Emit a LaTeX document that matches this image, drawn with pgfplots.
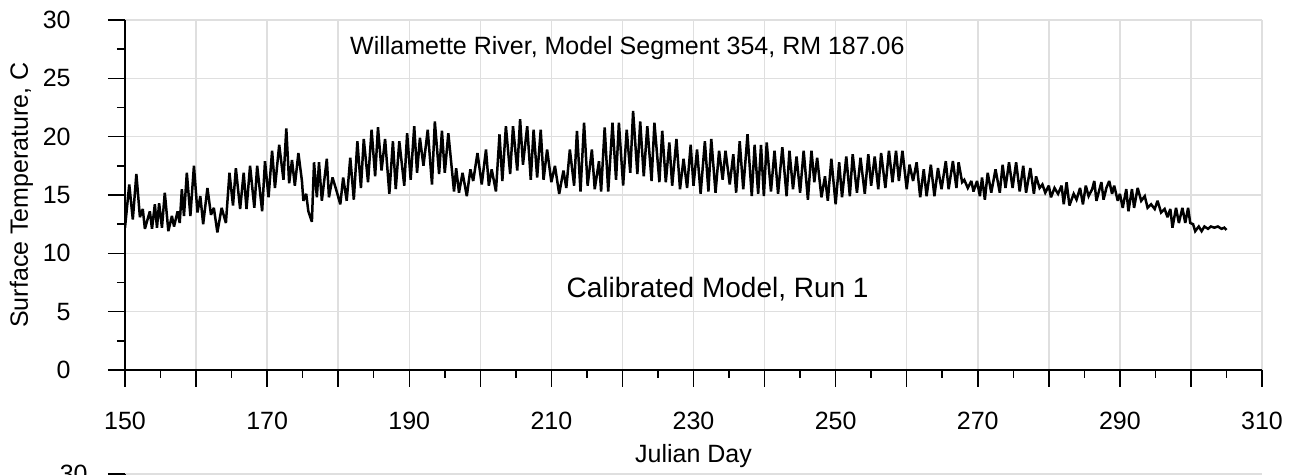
\documentclass[border=0pt]{standalone}
\usepackage{pgfplots}
\pgfplotsset{compat=1.18}
\usepackage{fontspec}
\setmainfont{Liberation Sans}
\newcommand{\lf}{\fontsize{12.5}{15}\selectfont}
\begin{document}
\begin{tikzpicture}
\begin{axis}[
  at={(0,0)}, anchor=south west,
  scale only axis, width=568.5pt, height=175pt,
  xmin=150, xmax=310, ymin=0, ymax=30,
  axis lines=left, axis line style={-, black, line width=0.75pt},
  xtick={150,160,...,310},
  xticklabels={150,,170,,190,,210,,230,,250,,270,,290,,310},
  ytick={0,5,...,30},
  yticklabels={0,5,10,15,20,25,30},
  minor x tick num=1, minor y tick num=1,
  tick align=outside, major tick length=8.5pt, minor tick length=4pt,
  tick style={black, line width=0.75pt},
  xmajorgrids, ymajorgrids,
  major grid style={draw=gray!25, line width=0.75pt},
  xticklabel style={font=\lf, anchor=base, inner sep=0pt, yshift=-21.5pt},
  yticklabel style={font=\lf, anchor=east, inner sep=0pt, xshift=-18.5pt},
]
\addplot[black, line width=1.25pt, sharp plot, line join=miter, miter limit=3] table {
150.0 12.2
150.6 15.9
151.1 12.9
151.6 16.8
152.1 13.1
152.5 13.8
152.8 12.1
153.5 13.6
153.8 12.1
154.2 14.2
154.5 12.2
154.8 14.3
155.2 12.2
155.6 15.2
156.1 11.9
156.6 13.2
156.9 12.3
157.4 13.6
157.7 12.6
158.0 15.5
158.3 13.2
158.7 16.9
159.2 13.2
159.7 17.5
160.2 13.5
160.6 14.9
161.0 12.5
161.6 15.6
162.1 13.3
162.5 13.9
163.0 11.8
163.6 13.9
164.2 12.6
164.7 16.9
165.2 14.1
165.6 17.3
166.2 13.8
166.7 16.9
167.1 13.8
167.6 17.5
168.2 13.9
168.6 17.5
169.3 13.6
169.7 17.9
170.2 14.8
170.7 18.8
171.1 15.6
171.7 19.3
172.3 16.3
172.7 20.7
173.1 16.0
173.5 18.0
173.9 15.8
174.4 18.6
174.9 16.2
175.1 14.5
175.5 15.1
175.8 13.6
176.3 12.7
176.6 17.8
177.0 14.8
177.3 17.8
177.7 14.5
178.4 18.1
178.7 14.8
179.2 16.5
179.7 15.5
180.3 14.2
180.7 16.5
181.2 14.5
181.7 18.2
182.2 14.6
182.7 19.6
183.2 15.6
183.6 19.8
184.2 16.1
184.7 20.6
185.2 16.6
185.6 20.8
186.1 17.1
186.6 19.8
187.2 15.1
187.7 19.6
188.1 15.5
188.6 19.6
189.3 15.8
189.7 20.3
190.2 16.3
190.7 20.9
191.1 16.9
191.5 19.9
192.0 17.5
192.6 20.6
193.2 15.9
193.6 21.3
194.2 16.8
194.6 20.5
195.0 16.9
195.5 20.3
195.9 17.8
196.3 15.3
196.6 17.3
197.0 15.2
197.5 16.9
198.1 14.9
198.6 17.2
199.0 16.2
199.6 18.6
200.2 15.9
200.8 18.9
201.2 15.8
201.6 17.2
202.2 15.3
202.7 20.2
203.1 16.2
203.6 20.9
204.2 16.8
204.6 20.9
205.2 17.1
205.6 21.5
206.0 17.6
206.6 20.9
207.1 16.3
207.5 20.6
208.0 16.5
208.5 20.6
208.9 16.3
209.4 18.9
210.0 16.1
210.5 17.5
211.1 15.1
211.7 17.1
212.1 15.6
212.6 18.9
213.2 15.8
213.6 20.5
214.1 15.3
214.6 21.2
215.1 15.8
215.7 18.9
216.1 15.5
216.7 17.9
217.0 15.3
217.5 20.8
218.0 15.3
218.6 21.2
219.1 16.3
219.5 21.2
220.1 15.8
220.6 20.6
221.1 16.9
221.5 22.2
222.1 16.8
222.5 21.3
223.0 16.6
223.5 20.9
224.1 16.2
224.5 21.2
225.2 16.1
225.6 20.5
226.1 16.1
226.6 19.5
227.0 15.8
227.6 19.8
228.1 15.5
228.6 18.1
229.1 15.6
229.6 19.3
230.0 15.8
230.5 18.9
231.0 15.1
231.6 19.6
232.1 15.3
232.5 19.8
233.1 15.2
233.6 18.8
234.1 16.3
234.5 18.8
235.1 15.9
235.6 18.5
236.0 15.2
236.5 19.6
237.0 15.5
237.6 20.2
238.2 14.9
238.6 19.3
239.1 15.1
239.5 19.3
239.9 14.9
240.3 19.5
240.9 15.3
241.4 18.8
241.9 15.1
242.5 19.1
243.1 14.9
243.5 18.8
244.0 15.5
244.5 18.3
245.0 15.2
245.5 18.8
246.1 14.6
246.6 18.8
247.0 16.1
247.4 18.2
248.0 14.8
248.5 16.6
248.9 14.5
249.4 18.1
250.0 14.2
250.5 17.8
250.9 14.8
251.5 18.3
252.0 14.9
252.4 18.5
253.0 15.2
253.5 18.2
254.1 15.1
254.6 18.5
255.0 15.8
255.5 18.3
256.0 15.5
256.4 18.6
257.0 15.6
257.5 18.8
258.0 16.1
258.5 18.8
258.9 16.2
259.4 18.8
260.0 15.5
260.4 17.6
260.9 16.2
261.4 17.8
261.9 14.8
262.4 17.2
262.8 14.9
263.4 17.6
263.9 14.9
264.4 17.3
264.9 15.5
265.5 17.9
265.9 15.5
266.5 17.9
267.0 15.6
267.3 17.8
267.8 16.1
268.1 16.3
268.6 15.6
269.1 16.2
269.4 15.3
269.9 16.2
270.3 14.9
270.6 16.5
271.0 14.6
271.4 16.9
271.9 15.2
272.5 17.2
273.1 15.2
273.5 17.6
273.9 15.6
274.4 17.8
274.9 15.6
275.4 17.8
275.9 15.3
276.4 17.5
276.8 15.2
277.4 17.3
277.9 15.1
278.2 16.6
278.7 15.6
279.1 15.9
279.5 15.2
280.0 15.8
280.3 14.8
280.8 15.6
281.3 15.1
281.8 15.8
282.1 14.2
282.5 16.1
282.9 14.1
283.5 15.1
283.9 14.6
284.4 15.6
284.8 14.2
285.2 15.8
285.6 14.9
286.1 15.5
286.4 16.2
286.7 14.5
287.4 16.1
287.7 14.6
288.1 15.6
288.5 16.2
288.9 15.1
289.2 15.8
289.7 14.5
290.0 15.1
290.4 13.9
290.9 15.5
291.2 13.6
291.7 15.5
292.0 13.9
292.5 15.6
293.0 14.5
293.5 14.9
293.9 13.9
294.4 14.2
294.9 13.8
295.3 14.5
295.8 13.5
296.3 13.8
296.7 13.1
297.1 13.8
297.4 12.2
297.9 13.9
298.3 12.6
298.8 13.9
299.2 12.6
299.6 13.9
299.9 12.6
300.3 12.5
300.6 11.9
301.1 12.3
301.5 11.9
301.9 12.3
302.4 12.1
302.8 12.3
303.3 12.2
303.8 12.3
304.3 12.1
304.7 12.2
305.0 12.0
};
\node[font=\lf, anchor=base, inner sep=0pt] at (axis cs:220.7,27.08) {Willamette River, Model Segment 354, RM 187.06};
\node[font=\fontsize{14}{17}\selectfont, anchor=base, inner sep=0pt] at (axis cs:233.4,6.25) {Calibrated Model, Run 1};
\end{axis}
\node[font=\lf, anchor=base, inner sep=0pt] at (284.25pt,-46.5pt) {Julian Day};
\node[font=\lf, anchor=base, inner sep=0pt, rotate=90] at (-48.5pt,87.5pt) {Surface Temperature, C};
% top of the next panel, cut by the page edge
\draw[gray!25, line width=0.75pt] (0,-52pt) -- (568.5pt,-52pt);
\draw[black, line width=0.75pt] (-8.5pt,-52pt) -- (0,-52pt);
\draw[black, line width=0.75pt] (0,-52pt) -- (0,-60pt);
\node[font=\lf, anchor=east, inner sep=0pt] at (-18.5pt,-52pt) {30};
\pgfresetboundingbox
\useasboundingbox (-62.5pt,-52.5pt) rectangle (587.5pt,185pt);
\end{tikzpicture}
\end{document}
